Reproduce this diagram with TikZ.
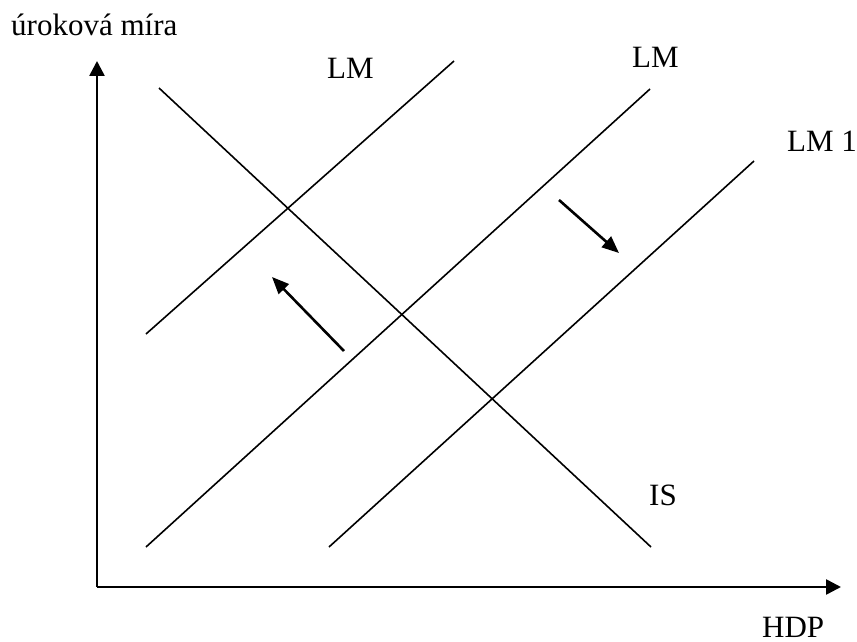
\documentclass[tikz,border=0pt]{standalone}
\usepackage{fontspec}
\setmainfont{Liberation Serif}
\usetikzlibrary{arrows.meta}
\tikzset{
  curve/.style={line width=1.6pt},
  axis/.style={line width=2.6pt,-{Triangle[width=15pt,length=15pt]}},
  shift arrow/.style={line width=2.6pt,-{Triangle[width=14pt,length=17pt]}},
  lbl/.style={anchor=base west,inner sep=0pt,font=\fontsize{31}{36}\selectfont}
}
\begin{document}
\begin{tikzpicture}[x=1pt,y=-1pt]
\useasboundingbox (0,0) rectangle (857,642);
% axes
\coordinate (origin) at (97,587);
\coordinate (ytip) at (97,61);
\coordinate (xtip) at (841,587);
\draw[axis] (origin) -- (ytip);
\draw[axis] (origin) -- (xtip);
% curves
\coordinate (lma1) at (146,334);
\coordinate (lma2) at (454,61);
\coordinate (lmb1) at (146,547);
\coordinate (lmb2) at (650,89);
\coordinate (lmc1) at (329,547);
\coordinate (lmc2) at (754,161);
\coordinate (is1) at (159,88);
\coordinate (is2) at (651,547);
\draw[curve] (lma1) -- (lma2);
\draw[curve] (lmb1) -- (lmb2);
\draw[curve] (lmc1) -- (lmc2);
\draw[curve] (is1) -- (is2);
% shift arrows
\coordinate (s1a) at (344,351);
\coordinate (s1b) at (272,277);
\coordinate (s2a) at (559,200);
\coordinate (s2b) at (619,253);
\draw[shift arrow] (s1a) -- (s1b);
\draw[shift arrow] (s2a) -- (s2b);
% labels
\node[lbl] (ylabel) at (11,36) {úroková míra};
\node[lbl] (lmalabel) at (327,79) {LM};
\node[lbl] (lmblabel) at (632,67) {LM};
\node[lbl] (lmclabel) at (787,151) {LM 1};
\node[lbl] (islabel) at (649,505) {IS};
\node[lbl] (xlabel) at (762,637) {HDP};
\end{tikzpicture}
\end{document}
